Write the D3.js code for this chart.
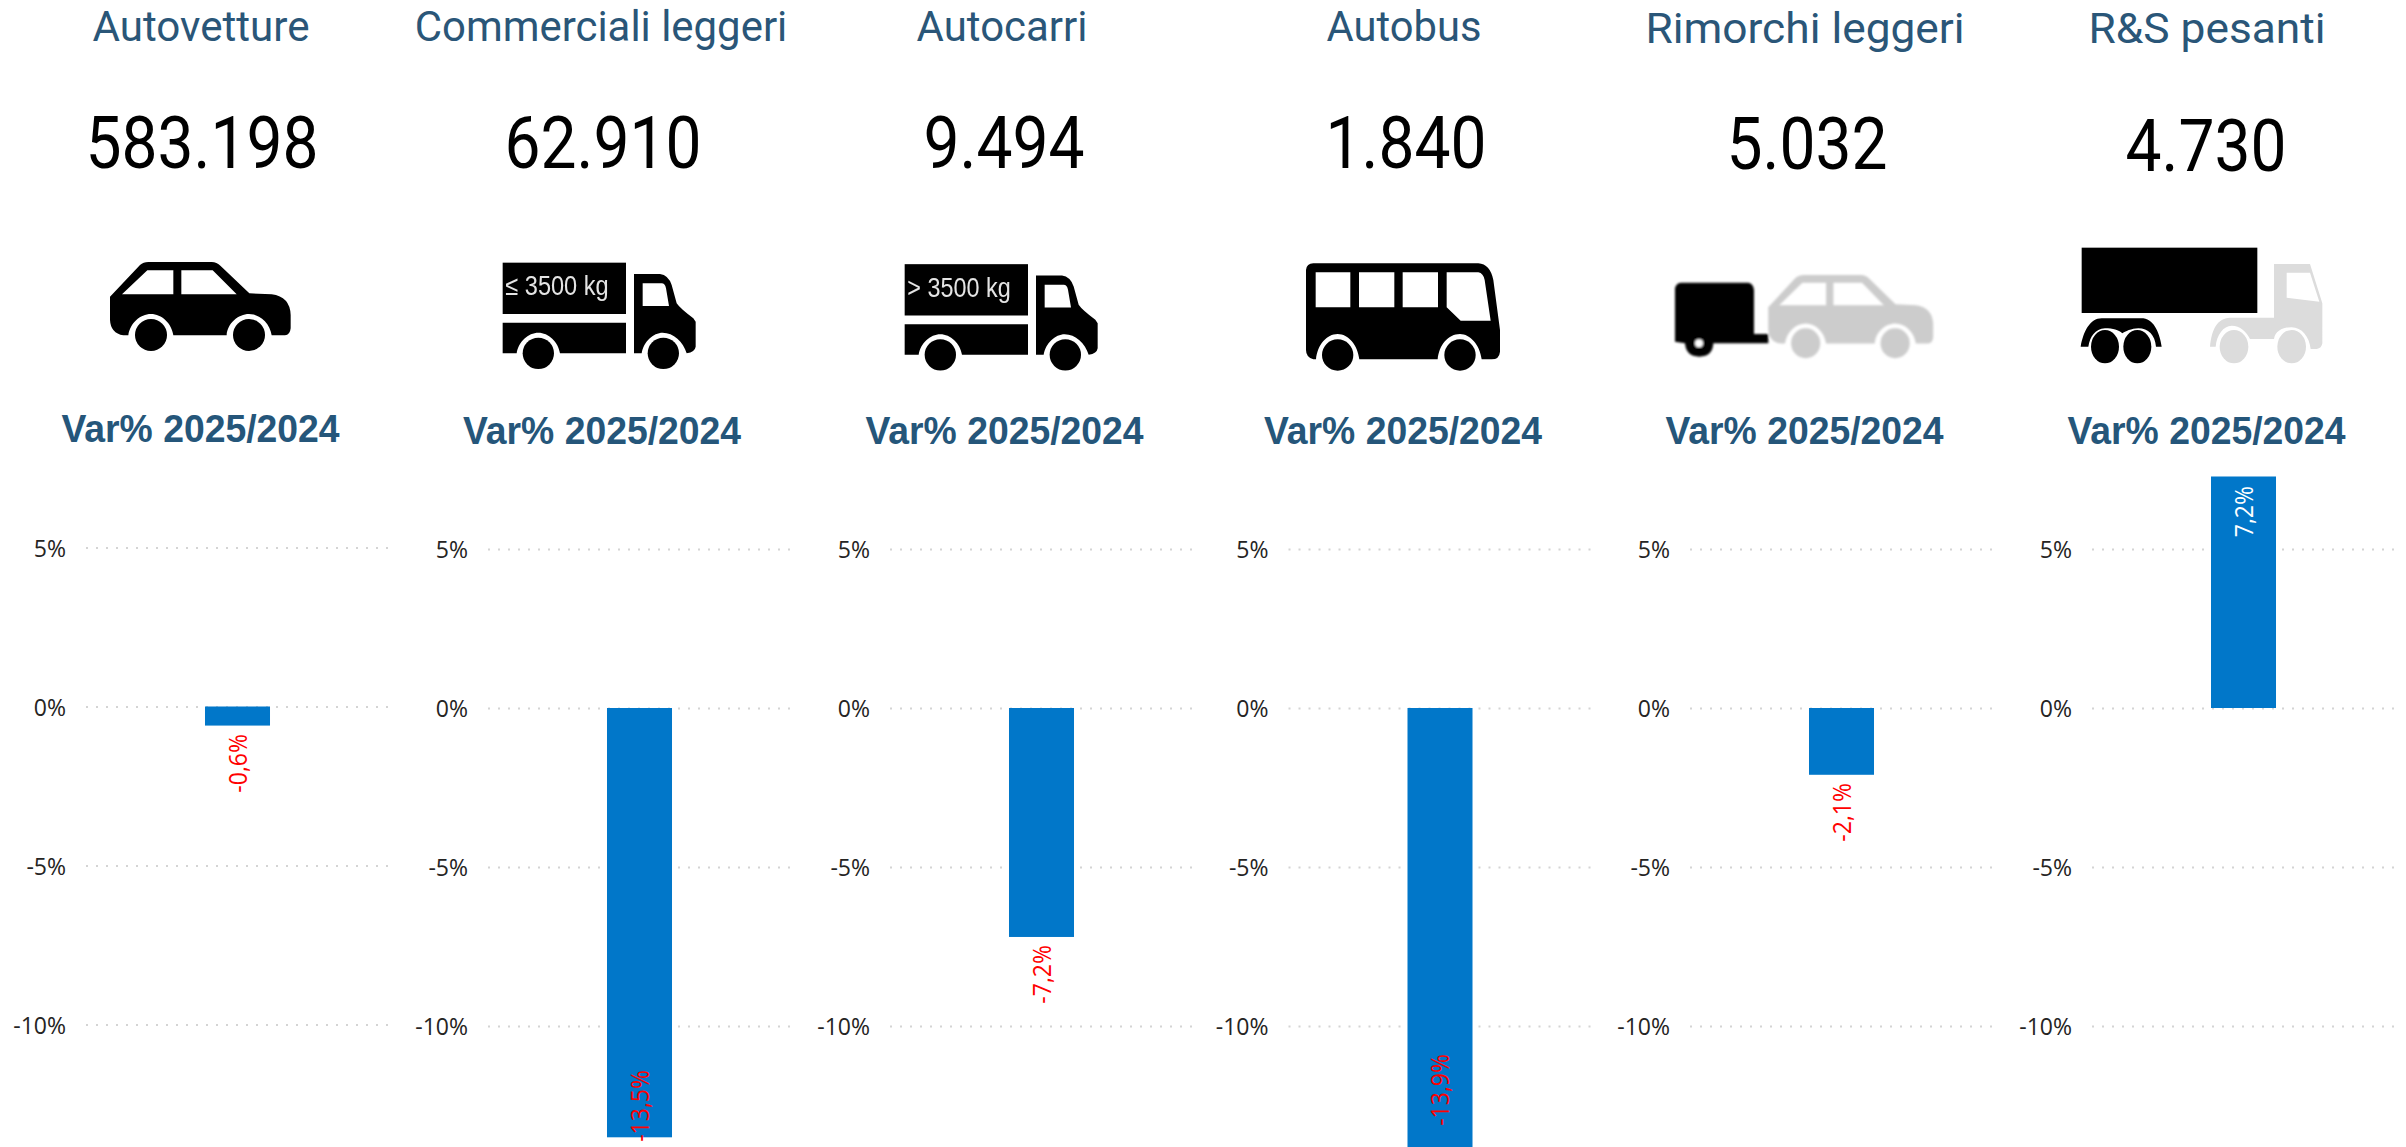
<!DOCTYPE html>
<html>
<head>
<meta charset="utf-8">
<script src="https://cdn.jsdelivr.net/npm/d3@7"></script>
<style>
html,body{margin:0;padding:0;background:#fff;overflow:hidden}
svg{display:block}
.tick text{font-family:"Open Sans",sans-serif;font-size:24px;fill:#252423}
</style>
</head>
<body>
<svg id="chart" width="2406" height="1147" viewBox="0 0 2406 1147">
  <defs>
    <filter id="soft" x="-5%" y="-5%" width="110%" height="110%"><feGaussianBlur stdDeviation="0.45"/></filter>
    <filter id="softer" x="-5%" y="-5%" width="110%" height="110%"><feGaussianBlur stdDeviation="0.8"/></filter>
  </defs>
</svg>
<script>
// ---- data ----
const categories = ["Autovetture","Commerciali leggeri","Autocarri","Autobus","Rimorchi leggeri","R&S pesanti"];
const registrations = [583198,62910,9494,1840,5032,4730];
const varPct = [-0.6,-13.5,-7.2,-13.9,-2.1,7.28];
const varLabels = ["-0,6%","-13,5%","-7,2%","-13,9%","-2,1%","7,2%"];
const yTicks = [5,0,-5,-10];
const subtitle = "Var% 2025/2024";

// ---- layout ----
const plotLefts  = [86,488,890,1288.5,1690,2092];
const plotDy     = [-1.5,0,0,0,0,0];
const titleX     = [201,601,1002,1404,1805,2207];
const titleBase  = [41,41,41,41,43,43];
const titleSx    = [0.98,0.975,0.975,0.97,1.03,1.03];
const valueX     = [202,603,1004,1406,1807,2206];
const valueBase  = [168,168,168,168,169,171];
const subX       = [200.5,602,1004.5,1403,1804.5,2206.5];
const subBase    = [442,444,444,444,444,444];
const labelTops  = [734,1070,945,1054,783,486];
const plotW = 303;

const svg = d3.select("#chart");
const itIT = d3.formatLocale({decimal:",",thousands:".",grouping:[3],currency:["€",""]});
const fmtInt = itIT.format(",d");

// ---- headers ----
function header(text,x,base,font,size,weight,fill,sx){
  svg.append("text").attr("transform",`translate(${x},${base}) scale(${sx},1)`)
    .attr("text-anchor","middle").attr("font-family",font).attr("font-size",size)
    .attr("font-weight",weight).attr("fill",fill).text(text);
}
categories.forEach((c,i)=>{
  header(c,titleX[i],titleBase[i],"Roboto",43,400,"#2A5678",titleSx[i]);
  header(fmtInt(registrations[i]),valueX[i],valueBase[i],"Roboto",72,400,"#000",0.89);
  header(subtitle,subX[i],subBase[i],"'Liberation Sans'",39.5,700,"#25567A",0.945);
});

// ---- icons (drawn in 3x units) ----
const carBody = "M60,170 L150,75 Q160,66 175,66 L365,66 Q380,66 392,78 L478,160 L545,163 Q600,170 602,225 L602,265 Q600,285 585,286 L545,286 C540,250 510,222 477,222 C445,222 412,250 410,286 L250,286 C245,250 215,222 183,222 C150,222 120,250 115,286 L100,286 Q62,280 60,240 Z M96,163 L250,163 L250,91 L172,91 Z M274,91 L274,163 L440,163 L368,91 Z";
function icon(x,y,f){ return svg.append("g").attr("filter",`url(#${f||"soft"})`).append("g").attr("transform",`translate(${x},${y}) scale(${1/3})`); }
function p(g,d,fill){ g.append("path").attr("d",d).attr("fill",fill).attr("fill-rule","evenodd"); }
function disc(g,cx,cy,rx,ry,fill){ g.append("ellipse").attr("cx",cx).attr("cy",cy).attr("rx",rx).attr("ry",ry).attr("fill",fill); }

// car
{ const g = icon(90,240); p(g,carBody,"#000"); disc(g,183,285,48,48,"#000"); disc(g,477,285,48,48,"#000"); }

// light / heavy trucks
function truck(x,y,label){
  const g = icon(x,y);
  g.append("rect").attr("x",38).attr("y",38).attr("width",370).attr("height",154).attr("fill","#000");
  p(g,"M38,218 L408,218 L408,310 L210,310 C205,275 175,248 145,248 C115,248 85,275 80,310 L38,310 Z","#000");
  p(g,"M432,72 L510,72 Q535,75 545,105 L560,160 Q570,175 610,205 L617,215 L617,290 Q615,305 590,310 C580,275 550,248 518,248 C490,248 460,275 455,310 L432,310 Z M458,100 L458,168 L537,168 L528,115 Q525,100 515,100 Z","#000");
  disc(g,145,310,47,47,"#000"); disc(g,520,310,47,47,"#000");
  g.append("text").attr("x",46).attr("y",135).attr("font-family","'Liberation Sans'").attr("font-size",82)
    .attr("fill","#e4e4e4").attr("textLength",310).attr("lengthAdjust","spacingAndGlyphs").text(label);
}
truck(490,250,"≤ 3500 kg");
truck(892,251.5,"> 3500 kg");

// bus
{ const g = icon(1290,250);
  p(g,"M48,60 Q50,40 70,40 L565,40 Q600,42 610,90 L630,240 L630,305 Q628,328 605,328 L575,328 C570,285 540,252 510,252 C475,252 447,285 443,328 L208,328 C203,285 175,252 143,252 C110,252 82,285 78,328 L70,328 Q48,322 48,300 Z M77,67 L77,172 L181,172 L181,67 Z M207,67 L207,172 L313,172 L313,67 Z M338,67 L338,172 L444,172 L444,67 Z M470,67 L470,172 L512,212 L602,212 L584,90 Q580,70 565,67 Z","#000");
  disc(g,143,315,47,47,"#000"); disc(g,510,315,47,47,"#000");
}

// trailer + car
{ const g = icon(1660,260,"softer");
  p(g,"M45,85 Q48,68 65,68 L265,68 Q280,70 282,90 L282,222 L325,222 L325,250 L160,250 Q158,290 118,290 Q78,290 75,250 L45,245 Z","#000");
  disc(g,117,250,12,12,"#fff");
  const c = g.append("g").attr("transform","translate(270,-17) scale(0.913,0.936)");
  p(c,carBody,"#cccccc"); disc(c,183,285,48,48,"#cccccc"); disc(c,477,285,48,48,"#cccccc");
}

// R&S pesanti
{ const g = icon(2060,235);
  g.append("rect").attr("x",65).attr("y",38).attr("width",527).attr("height",196).attr("fill","#000");
  p(g,"M62,335 C70,290 90,250 125,250 L250,250 C285,255 300,300 305,335 L288,335 C285,300 265,280 235,280 C215,280 195,290 187,295 C175,285 160,280 135,280 C105,282 90,305 85,335 Z","#000");
  disc(g,135,335,42,50,"#000"); disc(g,232,335,42,50,"#000");
  p(g,"M642,87 L750,87 L787,205 L787,325 Q785,340 770,342 L752,342 C748,305 725,277 695,277 C665,277 645,290 642,312 L570,312 C560,290 540,272 515,272 C490,272 470,300 467,335 L450,335 C455,285 470,250 510,248 L642,248 Z M680,113 L680,188 L778,200 L750,113 Z","#dcdcdc");
  disc(g,522,335,43,50,"#dcdcdc"); disc(g,695,335,43,50,"#dcdcdc");
}

// ---- small multiples ----
const tickSx = 0.96;
categories.forEach((c,i)=>{
  const dy = plotDy[i], left = plotLefts[i];
  const y = d3.scaleLinear().domain([5,-10]).range([549+dy,1026+dy]);
  const x = d3.scaleBand().domain([c]).range([left,left+plotW]).padding(0.6467);

  const ax = svg.append("g").attr("transform",`translate(${left},0)`)
    .call(d3.axisLeft(y).tickValues(yTicks).tickFormat(d=>d+"%").tickSizeInner(-plotW).tickSizeOuter(0).tickPadding(20));
  ax.select(".domain").remove();
  ax.selectAll(".tick line").attr("stroke","#d4d4d4").attr("stroke-width",2).attr("stroke-dasharray","2 8");
  ax.selectAll(".tick text").attr("dy","0.36em").attr("transform",`scale(${tickSx},1)`).attr("x",-20/tickSx);

  const v = varPct[i];
  svg.append("rect").datum(v)
    .attr("x",x(c)).attr("width",x.bandwidth())
    .attr("y",d=>y(Math.max(d,0))).attr("height",d=>Math.abs(y(d)-y(0)))
    .attr("fill","#0177C9");

  svg.append("text")
    .attr("transform",`translate(${x(c)+x.bandwidth()/2+9},${labelTops[i]}) rotate(-90) scale(0.92,1)`)
    .attr("text-anchor","end")
    .attr("font-family","'Open Sans',sans-serif").attr("font-size",25)
    .attr("fill",v>0?"#ffffff":"#FF0000").text(varLabels[i]);
});
</script>
</body>
</html>
